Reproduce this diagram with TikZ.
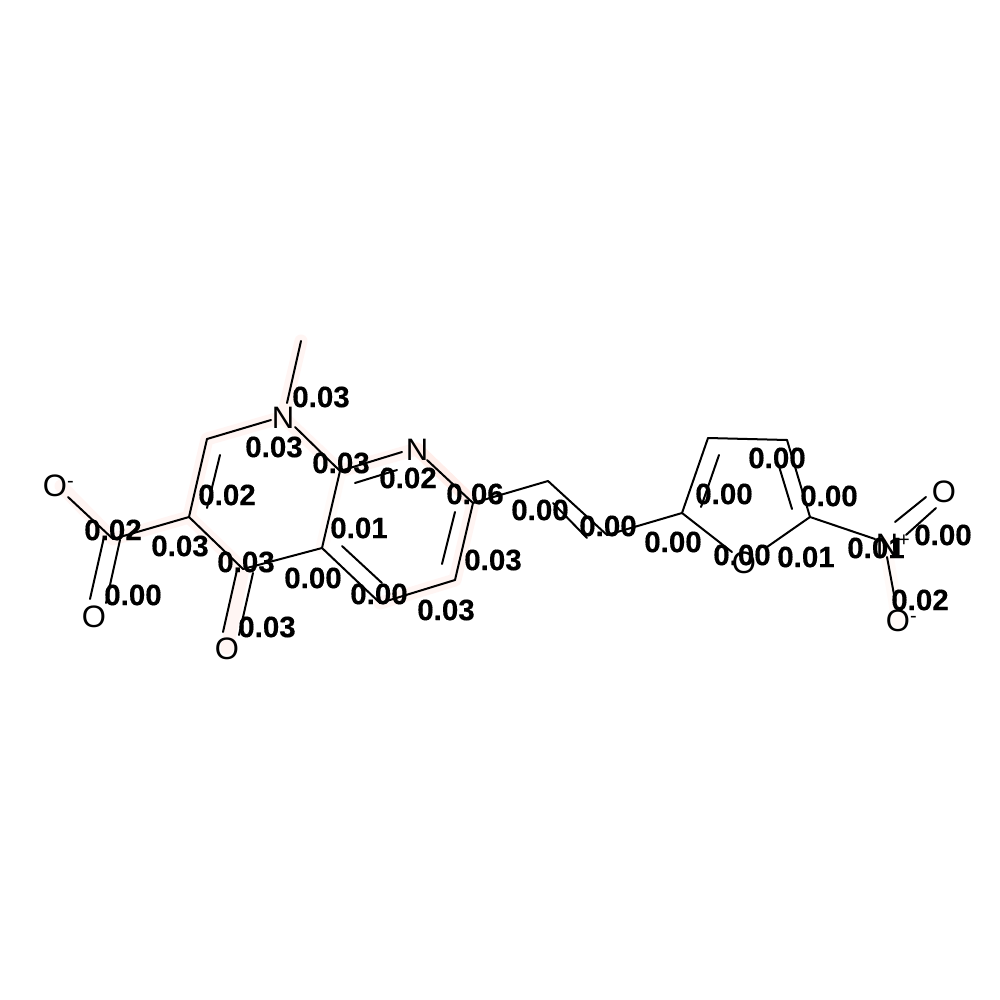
\documentclass[tikz,border=0pt]{standalone}
\usepackage{fontspec}
\setmainfont[BoldFeatures={FakeBold=0.35}]{Liberation Sans}
\newcommand{\chargemark}[1]{\rlap{\raisebox{9pt}{\fontsize{20}{20}\selectfont #1}}}
\tikzset{
  atom/.style={font=\fontsize{31}{31}\selectfont,inner sep=3pt,text=black},
  score/.style={font=\fontsize{29.5}{29.5}\bfseries\selectfont,inner sep=0pt,text=black},
  bond/.style={draw=black,line width=2pt,line cap=round},
  glow/.style={draw=#1,line width=13pt,line cap=round,line join=round},
  glow/.default={hlA}
}
\definecolor{hlA}{HTML}{FFF5F3}
\definecolor{hlB}{HTML}{FFEEEA}
\definecolor{hlC}{HTML}{FFFAF8}
\begin{document}
\begin{tikzpicture}[x=1pt,y=-1pt]
\useasboundingbox (0,0) rectangle (1000,1000);
\fill[white] (0,0) rectangle (1000,1000);
% carbon positions
\coordinate (me) at (301,341);
\coordinate (c1) at (207,439);
\coordinate (c2) at (189,517);
\coordinate (cx) at (113,539);
\coordinate (c3) at (243,569);
\coordinate (c4) at (322,548);
\coordinate (c5) at (340,471);
\coordinate (c6) at (380,603);
\coordinate (c7) at (455,580);
\coordinate (c8) at (473,503);
\coordinate (c9) at (548,481);
\coordinate (c10) at (607,535);
\coordinate (c11) at (682,513);
\coordinate (c12) at (708,438);
\coordinate (c13) at (787,440);
\coordinate (c14) at (810,517);
% highlights
\coordinate (hN1) at (283,417);
\coordinate (hN2) at (417,449);
\coordinate (hOm) at (61,486);
\coordinate (hOc) at (94,616);
\coordinate (hOk) at (227,648);
\coordinate (hNp) at (885,543);
\coordinate (hOb) at (898,621);
\draw[glow] (me) -- (hN1) -- (c1) -- (c2) -- (cx) -- (hOm);
\draw[glow] (c2) -- (c3) -- (hOk);
\draw[glow] (hN1) -- (c5) -- (hN2);
\draw[glow=hlB] (hN2) -- (c8);
\draw[glow] (c8) -- (c7) -- (c6);
\draw[glow=hlC] (c5) -- (c4);
\draw[glow=hlC] (hNp) -- (hOb);
% atom labels
\node[atom] (N1) at (283,418) {N};
\node[atom] (N2) at (417,450) {N};
\node[atom] (Om) at (55,486) {O\chargemark{-}};
\node[atom] (Oc) at (94,617) {O};
\node[atom] (Ok) at (227,649) {O};
\node[atom] (Of) at (744,563) {O};
\node[atom] (Np) at (887,545) {N\chargemark{+}};
\node[atom] (Oa) at (944,492) {O};
\node[atom] (Ob) at (898,621) {O\chargemark{-}};
% free ends of the parallel strokes
\coordinate (a1) at (220,455); \coordinate (a2) at (207,508);
\coordinate (b1) at (104,537); \coordinate (b2) at (90,599);
\coordinate (b3) at (120,540); \coordinate (b4) at (106,603);
\coordinate (d1) at (237,570); \coordinate (d2) at (223,632);
\coordinate (d3) at (253,573); \coordinate (d4) at (239,635);
\coordinate (e1) at (342,546); \coordinate (e2) at (382,583);
\coordinate (f1) at (442,564); \coordinate (f2) at (455,512);
\coordinate (g1) at (355,483); \coordinate (g2) at (397,470);
\coordinate (h1) at (553,503); \coordinate (h2) at (587,538);
\coordinate (i1) at (719,455); \coordinate (i2) at (701,507);
\coordinate (j1) at (778,463); \coordinate (j2) at (792,509);
\coordinate (k1) at (895,522); \coordinate (k2) at (926,497);
\coordinate (k3) at (906,535); \coordinate (k4) at (936,508);
\coordinate (Omb) at (68,497);
\coordinate (Npl) at (875,539);
\coordinate (Npb) at (887,557);
\coordinate (Obt) at (895,600);
\coordinate (Ofl) at (732,552);
\coordinate (Ofr) at (767,547);
\coordinate (N1t) at (287,403);
\coordinate (N1l) at (271,420);
\coordinate (N1r) at (295,427);
\coordinate (N2l) at (402,452);
\coordinate (N2r) at (427,460);
% bonds
\draw[bond] (me) -- (N1t);
\draw[bond] (N1l) -- (c1);
\draw[bond] (N1r) -- (c5);
\draw[bond] (c1) -- (c2);
\draw[bond] (a1) -- (a2);
\draw[bond] (c2) -- (cx);
\draw[bond] (Omb) -- (cx);
\draw[bond] (b1) -- (b2);
\draw[bond] (b3) -- (b4);
\draw[bond] (c2) -- (c3);
\draw[bond] (c3) -- (c4);
\draw[bond] (d1) -- (d2);
\draw[bond] (d3) -- (d4);
\draw[bond] (c4) -- (c5);
\draw[bond] (c4) -- (c6);
\draw[bond] (e1) -- (e2);
\draw[bond] (c6) -- (c7);
\draw[bond] (c7) -- (c8);
\draw[bond] (f1) -- (f2);
\draw[bond] (c5) -- (N2l);
\draw[bond] (g1) -- (g2);
\draw[bond] (N2r) -- (c8);
\draw[bond] (c8) -- (c9);
\draw[bond] (c9) -- (c10);
\draw[bond] (h1) -- (h2);
\draw[bond] (c10) -- (c11);
\draw[bond] (c11) -- (c12);
\draw[bond] (i1) -- (i2);
\draw[bond] (c12) -- (c13);
\draw[bond] (c13) -- (c14);
\draw[bond] (j1) -- (j2);
\draw[bond] (c11) -- (Ofl);
\draw[bond] (c14) -- (Ofr);
\draw[bond] (c14) -- (Npl);
\draw[bond] (k1) -- (k2);
\draw[bond] (k3) -- (k4);
\draw[bond] (Npb) -- (Obt);
% scores
\node[score] (s1) at (321,397) {0.03};
\node[score] (s2) at (274,447) {0.03};
\node[score] (s3) at (341,463) {0.03};
\node[score] (s4) at (408,478) {0.02};
\node[score] (s5) at (475,494) {0.06};
\node[score] (s6) at (540,510) {0.00};
\node[score] (s7) at (608,526) {0.00};
\node[score] (s8) at (673,542) {0.00};
\node[score] (s9) at (742,555) {0.00};
\node[score] (s10) at (806,557) {0.01};
\node[score] (s11) at (876,548) {0.01};
\node[score] (s12) at (943,535) {0.00};
\node[score] (s13) at (920,600) {0.02};
\node[score] (s14) at (829,496) {0.00};
\node[score] (s15) at (777,458) {0.00};
\node[score] (s16) at (724,494) {0.00};
\node[score] (s17) at (493,560) {0.03};
\node[score] (s18) at (446,610) {0.03};
\node[score] (s19) at (379,594) {0.00};
\node[score] (s20) at (313,578) {0.00};
\node[score] (s21) at (359,528) {0.01};
\node[score] (s22) at (246,562) {0.03};
\node[score] (s23) at (267,627) {0.03};
\node[score] (s24) at (180,546) {0.03};
\node[score] (s25) at (227,495) {0.02};
\node[score] (s26) at (113,530) {0.02};
\node[score] (s27) at (133,595) {0.00};
\end{tikzpicture}
\end{document}
